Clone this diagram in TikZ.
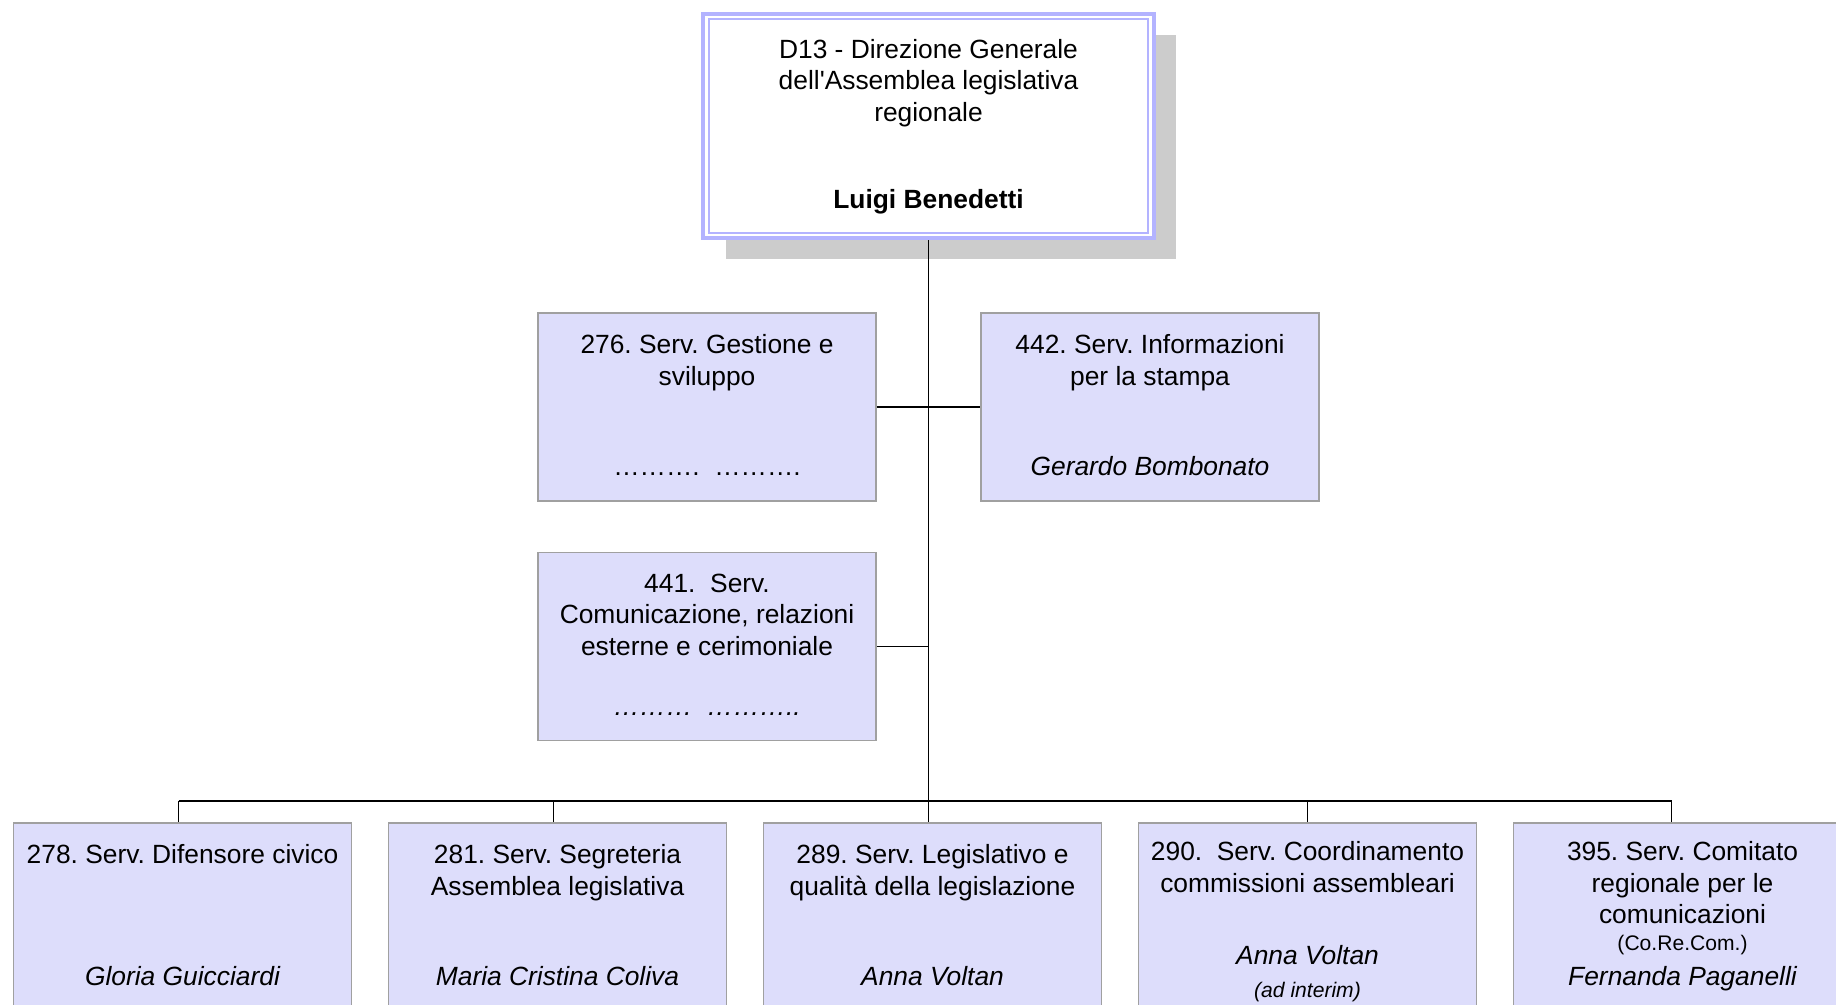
\documentclass[tikz,border=0pt]{standalone}
\usepackage{fontspec}
\setmainfont{Liberation Sans}
\usepackage{tikz}
\usetikzlibrary{calc, shadows}
\frenchspacing

\definecolor{unitfill}{RGB}{221,221,251}
\definecolor{unitline}{RGB}{160,160,160}
\definecolor{dgline}{RGB}{179,179,255}
\definecolor{dgshadow}{RGB}{204,204,204}

\begin{document}
\begin{tikzpicture}[
        unit/.style={draw=unitline, line width=1.1pt, fill=unitfill, minimum width=6.76cm, minimum height=3.76cm, inner sep=0pt},
        head/.style={anchor=north, align=center, inner sep=0pt, font=\fontsize{15}{18}\selectfont},
        chief/.style={anchor=base, inner sep=0pt, font=\fontsize{15}{18}\selectfont\itshape},
        note/.style={anchor=base, inner sep=0pt, font=\fontsize{12}{14}\selectfont},
        link/.style={line width=1.1pt}
    ]
        \useasboundingbox (0,0) rectangle (36.72,20.1);
        \clip (0,0) rectangle (36.72,20.1);

        \coordinate (DG) at (18.57,17.58);
        \coordinate (bus) at (18.57,4.08);

        % direzione generale
        \node[draw=dgline, line width=2.4pt, fill=white, minimum width=9.01cm, minimum height=4.49cm,
              drop shadow={shadow xshift=0.45cm, shadow yshift=-0.42cm, fill=dgshadow, opacity=1}] (dg) at (DG) {};
        \draw[dgline, line width=1.2pt] ($(dg.south west)+(0.15,0.15)$) rectangle ($(dg.north east)-(0.15,0.15)$);
        \node[head] (dgtitle) at ([yshift=-0.54cm]dg.north) {D13 - Direzione Generale\\dell\textquotesingle Assemblea legislativa\\regionale};
        \node[chief, font=\fontsize{15}{18}\selectfont\bfseries] (dgname) at ([yshift=0.64cm]dg.south) {Luigi Benedetti};

        % servizi di staff
        \node[unit] (s276) at (14.14,11.96) {};
        \node[unit] (s442) at (23.0,11.96) {};
        \node[unit] (s441) at (14.14,7.17) {};

        \node[head] (s276title) at ([yshift=-0.44cm]s276.north) {276. Serv. Gestione e\\sviluppo};
        \node[chief, font=\fontsize{15}{18}\selectfont] (s276name) at ([yshift=0.52cm]s276.south) {………. ~……….};
        \node[head] (s442title) at ([yshift=-0.44cm]s442.north) {442. Serv. Informazioni\\per la stampa};
        \node[chief] (s442name) at ([yshift=0.52cm]s442.south) {Gerardo Bombonato};
        \node[head] (s441title) at ([yshift=-0.44cm]s441.north) {441.~ Serv.\\Comunicazione, relazioni\\esterne e cerimoniale};
        \node[chief] (s441name) at ([yshift=0.52cm]s441.south) {……… ~………..};

        % servizi di linea
        \node[unit] (b278) at (3.65,1.76) {};
        \node[unit] (b281) at (11.15,1.76) {};
        \node[unit] (b289) at (18.65,1.76) {};
        \node[unit] (b290) at (26.15,1.76) {};
        \node[unit] (b395) at (33.65,1.76) {};

        \node[head] (b278title) at ([yshift=-0.44cm]b278.north) {278. Serv. Difensore civico};
        \node[chief] (b278name) at ([yshift=0.52cm]b278.south) {Gloria Guicciardi};
        \node[head] (b281title) at ([yshift=-0.44cm]b281.north) {281. Serv. Segreteria\\Assemblea legislativa};
        \node[chief] (b281name) at ([yshift=0.52cm]b281.south) {Maria Cristina Coliva};
        \node[head] (b289title) at ([yshift=-0.44cm]b289.north) {289. Serv. Legislativo e\\qualità della legislazione};
        \node[chief] (b289name) at ([yshift=0.52cm]b289.south) {Anna Voltan};
        \node[head] (b290title) at ([yshift=-0.38cm]b290.north) {290.~ Serv. Coordinamento\\commissioni assembleari};
        \node[chief] (b290name) at ([yshift=0.95cm]b290.south) {Anna Voltan};
        \node[note, font=\fontsize{12}{14}\selectfont\itshape] (b290note) at ([yshift=0.29cm]b290.south) {(ad interim)};
        \node[head] (b395title) at ([yshift=-0.38cm]b395.north) {395. Serv. Comitato\\regionale per le\\comunicazioni};
        \node[note] (b395note) at ([yshift=1.22cm]b395.south) {(Co.Re.Com.)};
        \node[chief] (b395name) at ([yshift=0.52cm]b395.south) {Fernanda Paganelli};

        % collegamenti
        \draw[link] (dg.south) -- (bus);
        \draw[link] (s276.east) -- (s442.west);
        \draw[link] (s441.east) -- (s441.east -| bus);
        \draw[link] ([xshift=-0.08cm]b278.north |- bus) -- ([xshift=-0.22cm]b395.north |- bus);
        \foreach \u/\dx in {b278/-0.08,b281/-0.08,b289/-0.08,b290/0,b395/-0.22}
            \draw[link] ([xshift=\dx cm]\u.north) -- ([xshift=\dx cm]\u.north |- bus);
    \end{tikzpicture}
\end{document}
